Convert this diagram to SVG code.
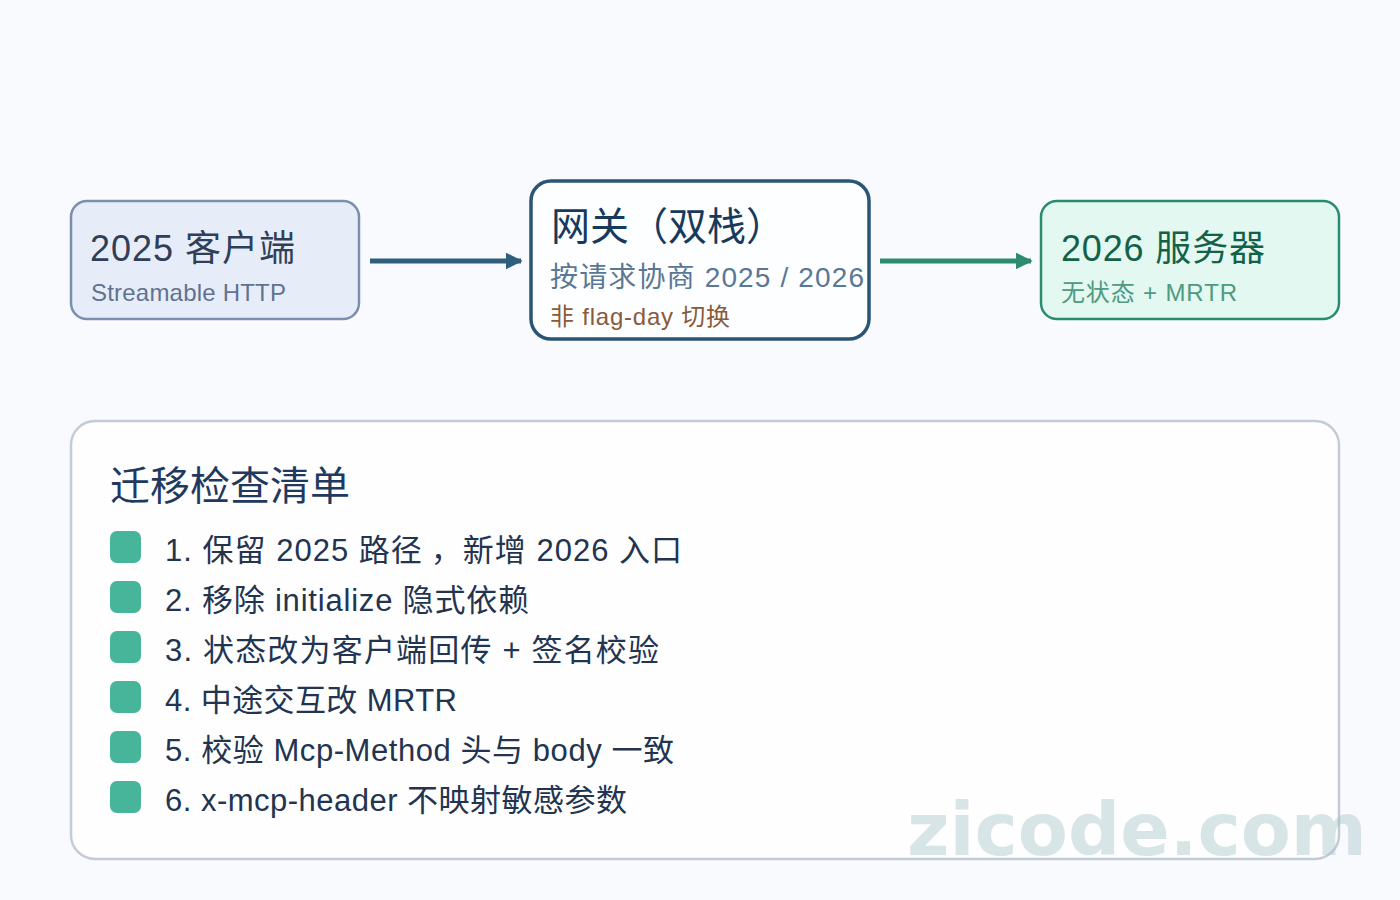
<svg xmlns="http://www.w3.org/2000/svg" width="1400" height="900" viewBox="0 0 1400 900">
<defs>
<style>
text{font-family:"Liberation Sans","Noto Sans CJK SC",sans-serif;}
.t1{font-size:36px;}
.sub{font-size:24px;}
.item{font-size:31px;fill:#22344f;}
.bullet{fill:#47b59a;}
.wm{font-family:"DejaVu Sans",sans-serif;font-weight:bold;font-size:73px;}
</style>
<marker id="ah1" viewBox="0 0 10 10" refX="9" refY="5" markerWidth="3.4" markerHeight="3.4" orient="auto" markerUnits="strokeWidth"><path d="M0,0 L10,5 L0,10 Z" fill="#2e5f7c"/></marker>
<marker id="ah2" viewBox="0 0 10 10" refX="9" refY="5" markerWidth="3.4" markerHeight="3.4" orient="auto" markerUnits="strokeWidth"><path d="M0,0 L10,5 L0,10 Z" fill="#2e8b72"/></marker>
</defs>
<rect x="0" y="0" width="1400" height="900" fill="#f8fafe"/>
<g id="connectors">
<line x1="370" y1="261" x2="521" y2="261" stroke="#2e5f7c" stroke-width="5" marker-end="url(#ah1)"/>
<line x1="880" y1="261" x2="1031" y2="261" stroke="#2e8b72" stroke-width="5" marker-end="url(#ah2)"/>
</g>
<g id="client">
<rect x="71" y="201" width="288" height="118" rx="16" fill="#e7edf8" stroke="#7a8fae" stroke-width="2.5"/>
<text x="90" y="261" class="t1" fill="#2f3f58" textLength="205" lengthAdjust="spacing">2025 客户端</text>
<text x="91" y="301" class="sub" fill="#5f7391" textLength="195" lengthAdjust="spacing">Streamable HTTP</text>
</g>
<g id="gateway">
<rect x="531" y="181" width="338" height="158" rx="20" fill="#fdfeff" stroke="#2a5674" stroke-width="3.5"/>
<text x="551" y="240" font-size="39" fill="#173a5c">网关（双栈）</text>
<text x="550" y="287" font-size="28" fill="#5a7795" textLength="314" lengthAdjust="spacing">按请求协商 2025 / 2026</text>
<text x="550" y="325" font-size="24" fill="#8a5a3a" textLength="180" lengthAdjust="spacing">非 flag-day 切换</text>
</g>
<g id="server">
<rect x="1041" y="201" width="298" height="118" rx="16" fill="#e2f8f0" stroke="#2a8c6e" stroke-width="2.5"/>
<text x="1061" y="261" class="t1" fill="#14614a" textLength="204" lengthAdjust="spacing">2026 服务器</text>
<text x="1061" y="301" class="sub" fill="#4f9a80" textLength="176" lengthAdjust="spacing">无状态 + MRTR</text>
</g>
<g id="checklist">
<rect x="71" y="421" width="1268" height="438" rx="24" fill="#fefeff" stroke="#c2ccd9" stroke-width="2.5"/>
<text x="110" y="500" font-size="40" fill="#1f3a5e">迁移检查清单</text>
<rect class="bullet" x="110" y="531" width="31" height="32" rx="7"/>
<rect class="bullet" x="110" y="581" width="31" height="32" rx="7"/>
<rect class="bullet" x="110" y="631" width="31" height="32" rx="7"/>
<rect class="bullet" x="110" y="681" width="31" height="32" rx="7"/>
<rect class="bullet" x="110" y="731" width="31" height="32" rx="7"/>
<rect class="bullet" x="110" y="781" width="31" height="32" rx="7"/>
<text x="165" y="561" class="item" textLength="517" lengthAdjust="spacing">1. 保留 2025 路径<tspan dx="8">，</tspan>新增 2026 入口</text>
<text x="165" y="611" class="item" textLength="364" lengthAdjust="spacing">2. 移除 initialize 隐式依赖</text>
<text x="165" y="661" class="item" textLength="494" lengthAdjust="spacing">3. 状态改为客户端回传 + 签名校验</text>
<text x="165" y="711" class="item" textLength="292" lengthAdjust="spacing">4. 中途交互改 MRTR</text>
<text x="165" y="761" class="item" textLength="509" lengthAdjust="spacing">5. 校验 Mcp-Method 头与 body 一致</text>
<text x="165" y="811" class="item" textLength="462" lengthAdjust="spacing">6. x-mcp-header 不映射敏感参数</text>
</g>
<text x="907" y="855" class="wm" fill="#9fc0c4" fill-opacity="0.4">zicode.com</text>
</svg>
